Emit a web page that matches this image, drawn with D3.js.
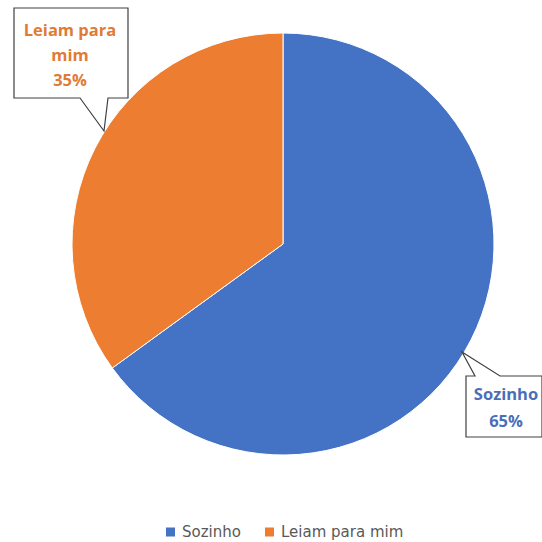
<!DOCTYPE html>
<html>
<head>
<meta charset="utf-8">
<script src="https://cdn.jsdelivr.net/npm/d3@7"></script>
<style>
  body { margin: 0; background: #fff; }
  svg { display: block; font-family: "Open Sans", "DejaVu Sans", sans-serif; }
</style>
</head>
<body>
<svg id="chart" width="542" height="542"></svg>
<script>
var categories = ["Sozinho", "Leiam para mim"];
var shares = [65, 35];
var labelLines = [["Sozinho"], ["Leiam para", "mim"]];
var colors = ["#4472C4", "#ED7D31"];
var textColors = ["#4a6fb8", "#e07b36"];

var svg = d3.select("#chart");
var cx = 283, cy = 244, r = 211;

var pie = d3.pie().sort(null).value(d => d);
var arcs = pie(shares);
var arc = d3.arc().innerRadius(0).outerRadius(r);

var g = svg.append("g").attr("transform", "translate(" + cx + "," + cy + ")");
g.selectAll("path")
    .data(arcs)
    .enter()
    .append("path")
    .attr("d", arc)
    .attr("fill", (d, i) => colors[i])
    .attr("stroke", "#fff")
    .attr("stroke-width", 1);

// callout boxes: box rect, pointer base on one edge, tip on the slice
var callouts = [
    { box: [466, 376, 76, 61], base: [475, 500], edge: "top", tip: [462, 352], tx: 506, ty: [394, 421] },
    { box: [14, 8, 114, 90], base: [80, 108], edge: "bottom", tip: [104, 131], tx: 70, ty: [30, 55, 80] }
];

callouts.forEach((c, i) => {
    var x0 = c.box[0], y0 = c.box[1], w = c.box[2], h = c.box[3];
    var x1 = x0 + w, y1 = y0 + h;
    var pts;
    if (c.edge === "top") {
        pts = [[x0, y0], [c.base[0], y0], c.tip, [c.base[1], y0], [x1, y0], [x1, y1], [x0, y1]];
    } else {
        pts = [[x0, y0], [x1, y0], [x1, y1], [c.base[1], y1], c.tip, [c.base[0], y1], [x0, y1]];
    }
    svg.append("path")
        .attr("d", d3.line()(pts) + "Z")
        .attr("fill", "#fff")
        .attr("stroke", "#404040")
        .attr("stroke-width", 1.2);

    var lines = labelLines[i].concat([shares[i] + "%"]);
    svg.selectAll(null)
        .data(lines)
        .enter()
        .append("text")
        .attr("x", c.tx)
        .attr("y", (d, k) => c.ty[k])
        .attr("dy", "0.35em")
        .attr("text-anchor", "middle")
        .attr("font-size", 16.5)
        .attr("font-weight", "bold")
        .attr("fill", textColors[i])
        .text(d => d);
});

// legend
var legend = svg.append("g").attr("transform", "translate(166,532)");
var offsets = [0, 99];
categories.forEach((name, i) => {
    var item = legend.append("g").attr("transform", "translate(" + offsets[i] + ",0)");
    item.append("rect")
        .attr("x", 0)
        .attr("y", -4.5)
        .attr("width", 9)
        .attr("height", 9)
        .attr("fill", colors[i]);
    item.append("text")
        .attr("x", 16)
        .attr("y", 0)
        .attr("dy", "0.35em")
        .attr("font-family", "DejaVu Sans, sans-serif")
        .attr("font-size", 15)
        .attr("fill", "#595959")
        .text(name);
});
</script>
</body>
</html>
